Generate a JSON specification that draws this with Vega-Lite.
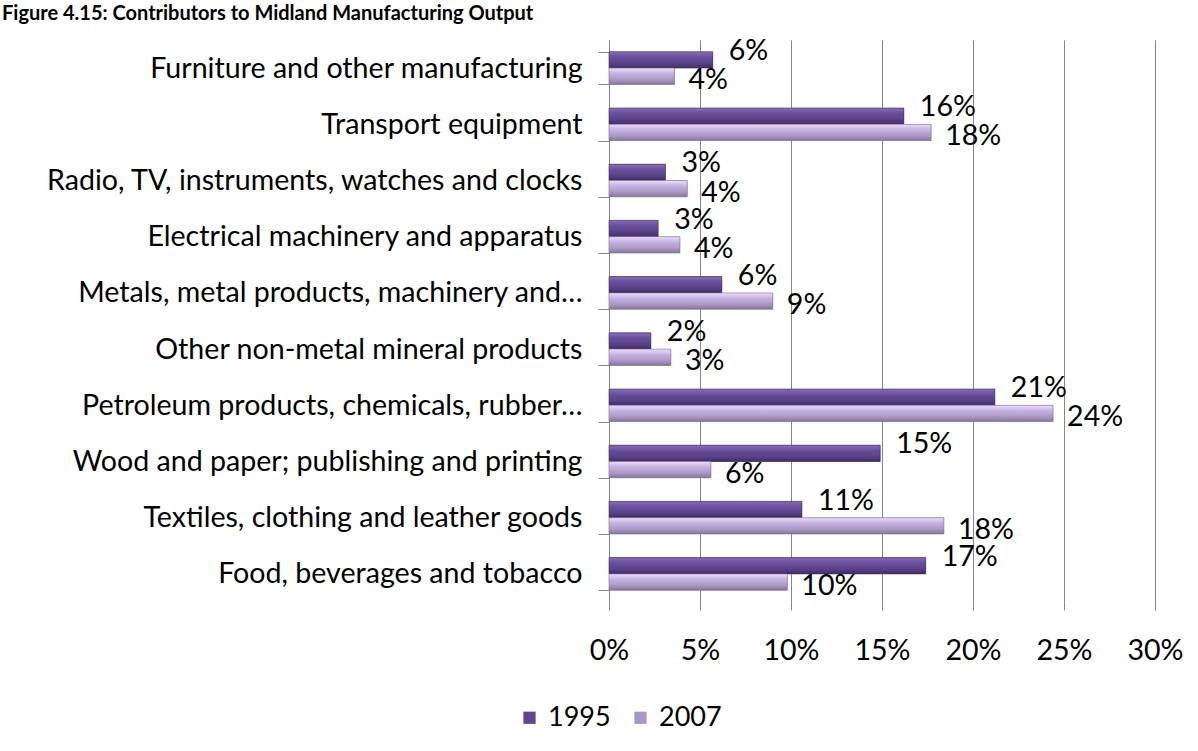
{
  "$schema": "https://vega.github.io/schema/vega-lite/v6.json",
  "autosize": "none",
  "width": 546,
  "height": 562,
  "padding": {"left": 609, "top": 40, "right": 43, "bottom": 149},
  "background": "white",
  "title": {
    "text": "Figure 4.15: Contributors to Midland Manufacturing Output",
    "anchor": "start",
    "frame": "group",
    "dx": -607,
    "offset": -14,
    "baseline": "alphabetic",
    "fontSize": 20,
    "fontWeight": "bold",
    "font": "Lato",
    "color": "black"
  },
  "data": {
    "values": [
      {"category": "Furniture and other manufacturing", "year": "1995", "value": 0.057},
      {"category": "Furniture and other manufacturing", "year": "2007", "value": 0.036},
      {"category": "Transport equipment", "year": "1995", "value": 0.162},
      {"category": "Transport equipment", "year": "2007", "value": 0.177},
      {"category": "Radio, TV, instruments, watches and clocks", "year": "1995", "value": 0.031},
      {"category": "Radio, TV, instruments, watches and clocks", "year": "2007", "value": 0.043},
      {"category": "Electrical machinery and apparatus", "year": "1995", "value": 0.027},
      {"category": "Electrical machinery and apparatus", "year": "2007", "value": 0.039},
      {"category": "Metals, metal products, machinery and…", "year": "1995", "value": 0.062},
      {"category": "Metals, metal products, machinery and…", "year": "2007", "value": 0.09},
      {"category": "Other non-metal mineral products", "year": "1995", "value": 0.023},
      {"category": "Other non-metal mineral products", "year": "2007", "value": 0.034},
      {"category": "Petroleum products, chemicals, rubber…", "year": "1995", "value": 0.212},
      {"category": "Petroleum products, chemicals, rubber…", "year": "2007", "value": 0.244},
      {"category": "Wood and paper; publishing and printing", "year": "1995", "value": 0.149},
      {"category": "Wood and paper; publishing and printing", "year": "2007", "value": 0.056},
      {"category": "Textiles, clothing and leather goods", "year": "1995", "value": 0.106},
      {"category": "Textiles, clothing and leather goods", "year": "2007", "value": 0.184},
      {"category": "Food, beverages and tobacco", "year": "1995", "value": 0.174},
      {"category": "Food, beverages and tobacco", "year": "2007", "value": 0.098}
    ]
  },
  "encoding": {
    "y": {
      "field": "category",
      "type": "nominal",
      "sort": null,
      "scale": {"paddingInner": 0.42, "paddingOuter": 0.21},
      "axis": {
        "title": null,
        "labelFontSize": 28.6,
        "labelFont": "Lato",
        "labelColor": "black",
        "labelLimit": 700,
        "labelPadding": 16,
        "tickBand": "extent",
        "tickSize": 11,
        "tickColor": "#868686",
        "domainColor": "#868686",
        "grid": false
      }
    },
    "yOffset": {"field": "year", "type": "nominal", "scale": {"domain": ["1995", "2007"]}},
    "x": {
      "field": "value",
      "type": "quantitative",
      "scale": {"domain": [0, 0.3], "nice": false},
      "axis": {
        "title": null,
        "format": ".0%",
        "values": [0, 0.05, 0.1, 0.15, 0.2, 0.25, 0.3],
        "domain": false,
        "ticks": true,
        "tickSize": 8,
        "tickColor": "#868686",
        "grid": true,
        "gridColor": "#868686",
        "gridOpacity": 1,
        "labelFlush": false,
        "labelPadding": 26,
        "labelFontSize": 28.6,
        "labelFont": "Lato",
        "labelColor": "black"
      }
    }
  },
  "layer": [
    {
      "mark": {"type": "bar"},
      "encoding": {
        "color": {
          "field": "year",
          "type": "nominal",
          "scale": {"domain": ["1995", "2007"], "range": ["#5F4690", "#A898C4"]},
          "legend": {
            "title": null,
            "orient": "none",
            "legendX": -93,
            "legendY": 664,
            "direction": "horizontal",
            "symbolType": "square",
            "symbolSize": 150,
            "symbolStrokeWidth": 0,
            "labelFontSize": 27,
            "labelFont": "Lato",
            "labelColor": "black",
            "columnPadding": 16,
            "labelOffset": 5
          }
        }
      }
    },
    {
      "transform": [{"filter": "datum.year == '1995'"}],
      "mark": {
        "type": "bar",
        "fill": {
          "gradient": "linear", "x1": 0, "y1": 0, "x2": 0, "y2": 1,
          "stops": [
            {"offset": 0, "color": "#8A6DB8"},
            {"offset": 0.3, "color": "#6A519C"},
            {"offset": 0.7, "color": "#5A4289"},
            {"offset": 1, "color": "#3E2C62"}
          ]
        },
        "stroke": "#3E2C62",
        "strokeWidth": 0.6
      }
    },
    {
      "transform": [{"filter": "datum.year == '2007'"}],
      "mark": {
        "type": "bar",
        "fill": {
          "gradient": "linear", "x1": 0, "y1": 0, "x2": 0, "y2": 1,
          "stops": [
            {"offset": 0, "color": "#EEDDFC"},
            {"offset": 0.3, "color": "#C9B5E4"},
            {"offset": 0.7, "color": "#AB98C6"},
            {"offset": 1, "color": "#857697"}
          ]
        },
        "stroke": "#7A6C8E",
        "strokeWidth": 0.6
      }
    },
    {
      "transform": [{"filter": "datum.year == '1995'"}],
      "mark": {"type": "text", "align": "left", "baseline": "middle", "dx": 16, "dy": -9, "fontSize": 28.6, "font": "Lato", "color": "black"},
      "encoding": {"text": {"field": "value", "type": "quantitative", "format": ".0%"}}
    },
    {
      "transform": [{"filter": "datum.year == '2007'"}],
      "mark": {"type": "text", "align": "left", "baseline": "middle", "dx": 14, "dy": 4, "fontSize": 28.6, "font": "Lato", "color": "black"},
      "encoding": {"text": {"field": "value", "type": "quantitative", "format": ".0%"}}
    }
  ],
  "config": {"view": {"stroke": null}}
}
